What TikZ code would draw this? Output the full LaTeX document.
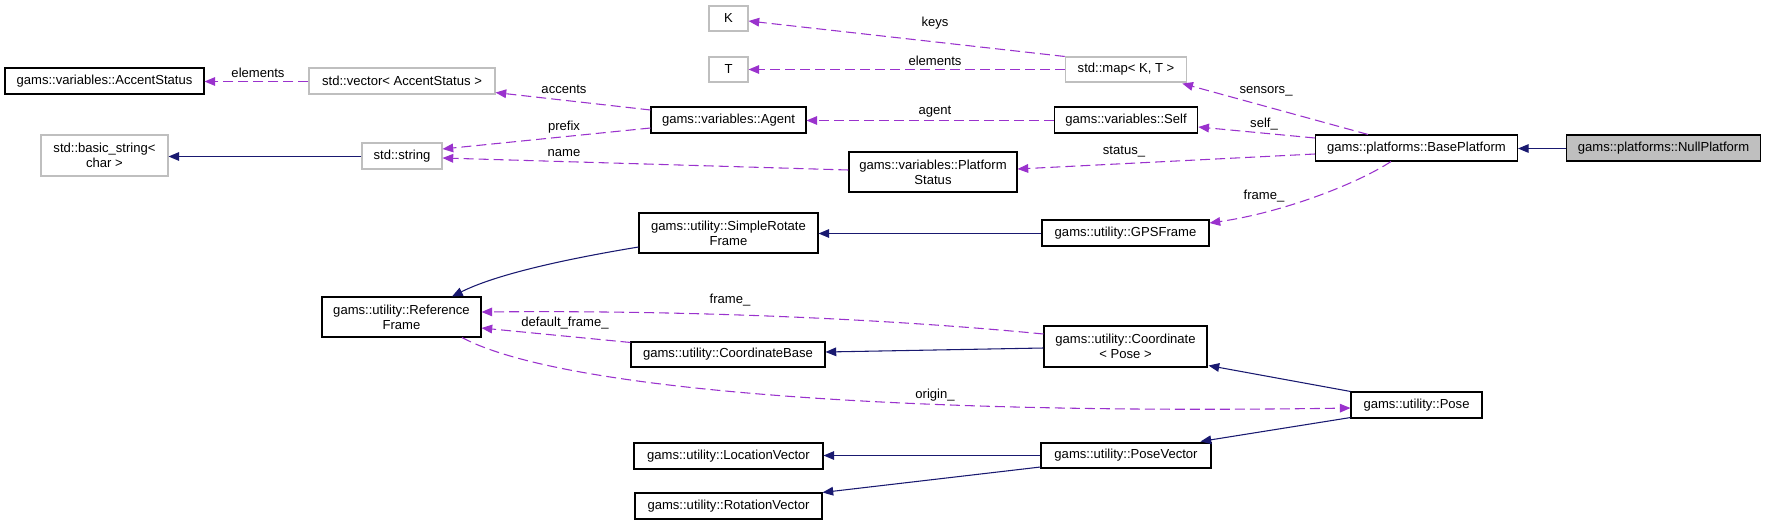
\documentclass[tikz,border=0pt]{standalone}
\usepackage{fontspec}
\setmainfont{Liberation Sans}
\usetikzlibrary{arrows.meta,calc}
\definecolor{navy}{HTML}{191970}
\definecolor{orchid}{HTML}{9A32CD}
\definecolor{lgrey}{HTML}{BFBFBF}
\tikzset{
  box/.style 2 args={draw=black, line width=0.8pt, fill=white, inner sep=0pt,
    minimum width=#1*0.75pt, minimum height=#2*0.75pt, align=center,
    font=\fontsize{9.8}{11.3}\selectfont},
  gbox/.style 2 args={box={#1}{#2}, draw=lgrey},
  inh/.style={draw=navy, line width=0.8pt, -{Triangle[length=8pt,width=6.5pt]}},
  use/.style={draw=orchid, line width=0.8pt, dash pattern=on 7.5pt off 3.75pt,
    -{Triangle[length=8pt,width=6.5pt]}},
  lbl/.style={inner sep=0pt, font=\fontsize{9.8}{11.3}\selectfont}
}
\begin{document}
\begin{tikzpicture}[x=0.75pt,y=-0.75pt]
\useasboundingbox (0,0) rectangle (1765,525);
% nodes
\node[box={199}{26}] (accent) at (104.5,81) {gams::variables::AccentStatus};
\node[gbox={127}{41}] (bstr) at (104.5,155.5) {std::basic\_string<\\char >};
\node[gbox={186}{26}] (vec) at (402,81) {std::vector< AccentStatus >};
\node[gbox={80}{26}] (str) at (402,156) {std::string};
\node[box={159}{40}] (ref) at (401.5,317) {gams::utility::Reference\\Frame};
\node[gbox={39}{25}] (K) at (728.5,18.5) {K};
\node[gbox={39}{25}] (T) at (728.5,69.5) {T};
\node[box={155}{26}] (agent) at (728.5,120) {gams::variables::Agent};
\node[box={179}{40}] (srf) at (728.5,233) {gams::utility::SimpleRotate\\Frame};
\node[box={194}{25}] (cbase) at (728,354.5) {gams::utility::CoordinateBase};
\node[box={189}{26}] (loc) at (728.5,456) {gams::utility::LocationVector};
\node[box={187}{26}] (rot) at (728.5,506) {gams::utility::RotationVector};
\node[box={168}{40}] (pstat) at (933,172) {gams::variables::Platform\\Status};
\node[gbox={121.5}{25}] (map) at (1126,69.5) {std::map< K, T >};
\node[box={143.5}{26}] (self) at (1126,120) {gams::variables::Self};
\node[box={167}{26}] (gps) at (1125.5,233) {gams::utility::GPSFrame};
\node[box={163}{41}] (coord) at (1125.5,346.5) {gams::utility::Coordinate\\< Pose >};
\node[box={170}{25}] (posevec) at (1126,455.5) {gams::utility::PoseVector};
\node[box={202}{26}] (base) at (1416.5,148) {gams::platforms::BasePlatform};
\node[box={131}{26}] (pose) at (1416.5,405) {gams::utility::Pose};
\node[box={194}{26}, fill=lgrey] (null) at (1663.5,148) {gams::platforms::NullPlatform};
% inheritance edges
\draw[inh] ($(null.west)+(0,0.5)$) -- ($(base.east)+(0,0.5)$);
\draw[inh] ($(str.west)+(0,0.5)$) -- ($(str.west -| bstr.east)+(0,0.5)$);
\draw[inh] ($(srf.west)+(0,14)$) .. controls (560,260) and (495,275) .. ($(ref.north)+(50.5,0)$);
\draw[inh] ($(gps.west)+(0,0.5)$) -- ($(gps.west -| srf.east)+(0,0.5)$);
\draw[inh] ($(coord.west)+(0,1.5)$) -- ($(cbase.east)+(0,-2.5)$);
\draw[inh] (pose.north west) -- ($(coord.south east)+(1,-2)$);
\draw[inh] ($(pose.south west)+(0,-1)$) -- ($(posevec.north east)+(-11,-1)$);
\draw[inh] (posevec.west) -- (posevec.west -| loc.east);
\draw[inh] ($(posevec.west)+(0,11.5)$) -- (rot.north east);
% usage edges
\draw[use] ($(base.north)+(-48.5,0)$) -- ($(map.south east)+(-5,1)$);
\draw[use] ($(base.west)+(0,-10)$) -- ($(self.east)+(0,7)$);
\draw[use] ($(base.west)+(0,6)$) -- ($(pstat.east)+(0,-3)$);
\draw[use] ($(base.south)+(-25.5,0)$) .. controls (1355,185) and (1280,213) .. ($(gps.east)+(0,-10)$);
\draw[use] (map.north west) -- ($(K.east)+(0,2.5)$);
\draw[use] (map.west) -- (T.east);
\draw[use] ($(self.west)+(0,0.5)$) -- ($(agent.east)+(0,0.5)$);
\draw[use] ($(agent.west)+(0,-10)$) -- ($(vec.south east)+(0,-2)$);
\draw[use] ($(agent.west)+(0,8)$) -- ($(str.east)+(0,-7)$);
\draw[use] ($(pstat.west)+(0,-2)$) -- ($(str.east)+(0,2)$);
\draw[use] ($(vec.west)+(0,0.5)$) -- ($(accent.east)+(0,0.5)$);
\draw[use] ($(coord.west)+(0,-12.5)$) .. controls (900,320) and (700,310) .. ($(ref.east)+(0,-5)$);
\draw[use] ($(cbase.north west)+(0,1)$) -- ($(ref.east)+(0,11)$);
\draw[use] ($(ref.south)+(60.5,0)$) .. controls (560,390) and (900,415) .. ($(pose.west)+(0,3)$);
% labels
\node[lbl] (l1) at (258,73) {elements};
\node[lbl] (l2) at (564,89) {accents};
\node[lbl] (l3) at (564,127) {prefix};
\node[lbl] (l4) at (564,153) {name};
\node[lbl] (l5) at (935,23) {keys};
\node[lbl] (l6) at (935,61) {elements};
\node[lbl] (l7) at (935,112) {agent};
\node[lbl] (l8) at (1124,152) {status\_};
\node[lbl] (l9) at (1266,91) {sensors\_};
\node[lbl] (l10) at (1264,124) {self\_};
\node[lbl] (l11) at (1264,196) {frame\_};
\node[lbl] (l12) at (730,300) {frame\_};
\node[lbl] (l13) at (565,323) {default\_frame\_};
\node[lbl] (l14) at (935,395) {origin\_};
\end{tikzpicture}
\end{document}
